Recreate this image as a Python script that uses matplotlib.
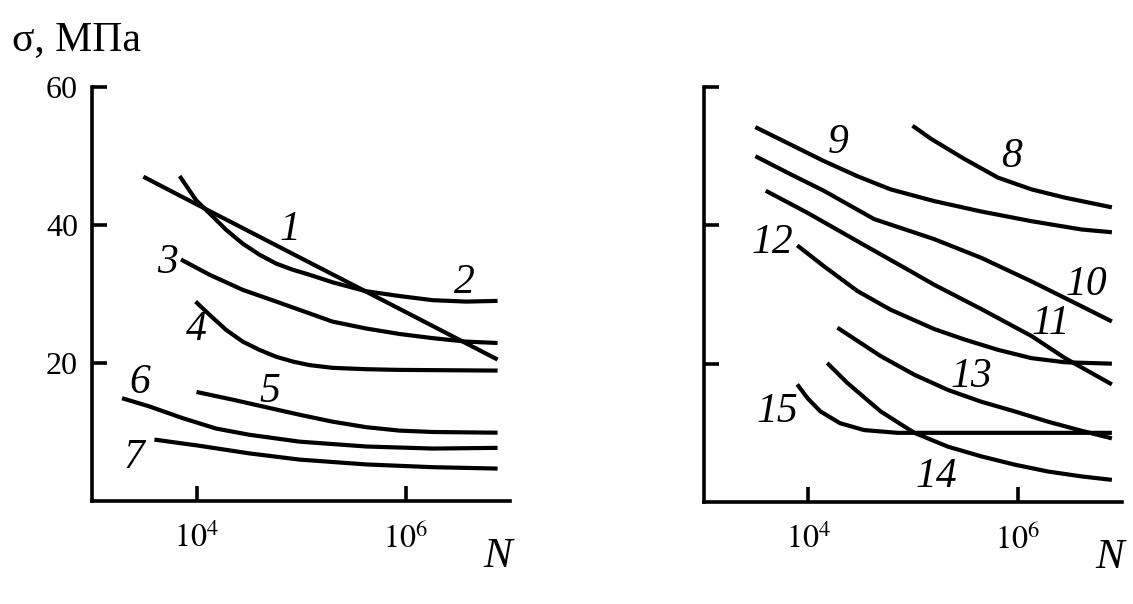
import matplotlib
matplotlib.use('Agg')
import matplotlib.pyplot as plt

plt.rcParams['font.family'] = ['Liberation Serif', 'DejaVu Serif']
plt.rcParams['mathtext.fontset'] = 'stix'

# ---------------- data (N, sigma MPa) ----------------
c1_N = [3.1e3, 1e4, 1e5, 1e6, 7.6e6]
c1_s = [47.0, 43.0, 35.2, 27.4, 20.5]
c2_N = [6.9e3, 9.9e3, 1.33e4, 1.92e4, 2.77e4, 4.0e4, 5.8e4, 8.4e4, 1.2e5,
        2e5, 4.2e5, 8.8e5, 1.83e6, 3.8e6, 7.6e6]
c2_s = [47.1, 43.6, 41.7, 39.3, 37.3, 35.7, 34.4, 33.5, 32.8,
        31.7, 30.4, 29.7, 29.1, 28.9, 29.0]
c3_N = [7.1e3, 1.33e4, 2.77e4, 5.8e4, 1.2e5, 2e5, 4.2e5, 8.8e5, 1.83e6, 3.8e6, 7.6e6]
c3_s = [35.0, 32.8, 30.6, 28.9, 27.2, 26.0, 25.0, 24.2, 23.6, 23.1, 22.9]
c4_N = [9.8e3, 1.33e4, 1.92e4, 2.77e4, 4e4, 5.8e4, 8.4e4, 1.2e5, 2e5, 4.2e5,
        8.8e5, 7.6e6]
c4_s = [28.9, 27.0, 24.8, 23.1, 21.9, 20.9, 20.2, 19.7, 19.3, 19.1, 19.0, 18.9]
c5_N = [1e4, 2.2e4, 4.6e4, 9.7e4, 2e5, 4.2e5, 8.8e5, 1.83e6, 7.6e6]
c5_s = [15.8, 14.7, 13.6, 12.5, 11.5, 10.7, 10.2, 10.0, 9.9]
c6_N = [1.94e3, 3.55e3, 7.4e3, 1.54e4, 3.2e4, 9.7e4, 4.2e5, 1.83e6, 7.6e6]
c6_s = [14.9, 13.7, 12.0, 10.5, 9.6, 8.6, 7.9, 7.6, 7.7]
c7_N = [3.96e3, 1.07e4, 3.2e4, 9.7e4, 4.2e5, 1.83e6, 7.6e6]
c7_s = [8.9, 8.0, 6.9, 6.0, 5.3, 4.9, 4.7]

c8_N = [9.9e4, 1.49e5, 3.1e5, 6.5e5, 1.36e6, 2.85e6, 8e6]
c8_s = [54.4, 52.5, 49.6, 46.9, 45.2, 44.0, 42.6]
c9_N = [3.1e3, 6.7e3, 1.4e4, 2.94e4, 6.1e4, 1.6e5, 4.5e5, 1.36e6, 4.1e6, 8e6]
c9_s = [54.2, 51.7, 49.3, 47.1, 45.2, 43.5, 42.0, 40.6, 39.4, 39.0]
c10_N = [3.1e3, 6.7e3, 1.4e4, 4.25e4, 1.6e5, 4.5e5, 1.36e6, 4.1e6, 8e6]
c10_s = [50.0, 47.4, 45.0, 40.9, 38.0, 35.3, 31.9, 28.3, 26.1]
c11_N = [3.9e3, 9.8e3, 2.94e4, 8.9e4, 1.6e5, 4.5e5, 1.36e6, 2.85e6, 8e6]
c11_s = [45.0, 41.8, 37.7, 33.6, 31.4, 27.9, 24.0, 20.8, 17.0]
c12_N = [7.8e3, 1.4e4, 2.94e4, 6.1e4, 1.6e5, 3.1e5, 6.5e5, 1.36e6, 2.85e6, 8e6]
c12_s = [37.1, 34.1, 30.5, 27.8, 25.0, 23.5, 22.0, 20.8, 20.2, 20.0]
c13_N = [1.89e4, 4.9e4, 1.03e5, 2.16e5, 4.5e5, 9.4e5, 1.97e6, 4.1e6, 8e6]
c13_s = [25.2, 21.1, 18.4, 16.2, 14.5, 13.1, 11.6, 10.3, 9.2]
c14_N = [1.51e4, 2.36e4, 4.9e4, 1.03e5, 2.16e5, 4.5e5, 9.4e5, 1.97e6, 4.1e6, 8e6]
c14_s = [20.1, 17.2, 13.1, 10.0, 8.0, 6.6, 5.4, 4.4, 3.7, 3.2]
c15_N = [7.8e3, 9.8e3, 1.3e4, 2e4, 3.4e4, 7.1e4, 4.5e5, 8e6]
c15_s = [17.0, 15.0, 13.1, 11.4, 10.4, 10.0, 10.0, 10.0]

left_curves = [(c1_N, c1_s), (c2_N, c2_s), (c3_N, c3_s), (c4_N, c4_s),
               (c5_N, c5_s), (c6_N, c6_s), (c7_N, c7_s)]
right_curves = [(c8_N, c8_s), (c9_N, c9_s), (c10_N, c10_s), (c11_N, c11_s),
                (c12_N, c12_s), (c13_N, c13_s), (c14_N, c14_s), (c15_N, c15_s)]

left_labels = ['1', '2', '3', '4', '5', '6', '7']
left_label_pos = [(7.8e4, 39.3), (3.7e6, 31.6), (5.3e3, 34.6), (1e4, 24.8),
                  (5e4, 15.8), (2.85e3, 17.2), (2.55e3, 6.2)]
right_labels = ['8', '9', '10', '11', '12', '13', '14', '15']
right_label_pos = [(8.7e5, 49.9), (1.94e4, 52.0), (4.6e6, 31.4), (2.1e6, 25.7),
                   (4.5e3, 37.5), (3.6e5, 18.1), (1.66e5, 3.6), (5e3, 13.0)]

x_ticks = [1e4, 1e6]
x_ticklabels = ['$10^4$', '$10^6$']
y_ticks = [20, 40, 60]
y_ticklabels = ['20', '40', '60']

# ---------------- figure ----------------
fig = plt.figure(figsize=(11.33, 6.04), dpi=100)
axL = fig.add_axes([92/1133, 103/604, 418/1133, 414/604])
axR = fig.add_axes([704/1133, 102/604, 418/1133, 415/604])

lw = 3.0
for ax, curves, labels, lpos, show_y in [
        (axL, left_curves, left_labels, left_label_pos, True),
        (axR, right_curves, right_labels, right_label_pos, False)]:
    for N, s in curves:
        ax.plot(N, s, color='black', lw=lw, solid_capstyle='butt',
                solid_joinstyle='round')
    for t, (x, y) in zip(labels, lpos):
        ax.text(x, y, t, fontsize=30, style='italic', ha='center', va='center')
    ax.set_xscale('log')
    ax.set_xlim(1e3, 1e7)
    ax.set_ylim(0, 60)
    ax.spines['top'].set_visible(False)
    ax.spines['right'].set_visible(False)
    for sp in ('left', 'bottom'):
        ax.spines[sp].set_linewidth(2.6)
    ax.xaxis.set_minor_locator(matplotlib.ticker.NullLocator())
    ax.set_xticks(x_ticks)
    ax.set_xticklabels(x_ticklabels)
    ax.set_yticks(y_ticks)
    if show_y:
        ax.set_yticklabels(y_ticklabels)
    else:
        ax.set_yticklabels([])
    ax.tick_params(axis='both', direction='in', length=11, width=2.6,
                   labelsize=23)
    ax.tick_params(axis='y', pad=10)
    ax.tick_params(axis='x', pad=16)
    ax.text(0.971, -0.135, 'N', transform=ax.transAxes, fontsize=31,
            style='italic', ha='center', va='center')

fig.text(12/1133, 1 - 40/604, 'σ, МПа', fontsize=30, ha='left', va='center')

fig.savefig('out.png', dpi=100)
